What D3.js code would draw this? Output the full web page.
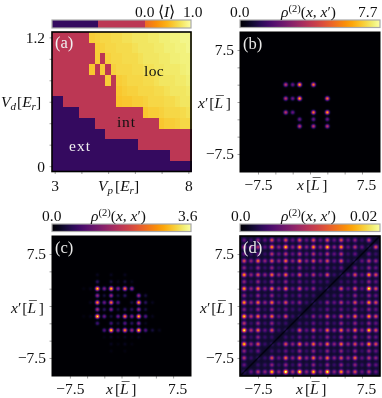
<!DOCTYPE html>
<html>
<head>
<meta charset="utf-8">
<script src="https://cdn.jsdelivr.net/npm/d3@7"></script>
<style>
html, body { margin: 0; padding: 0; background: #fff; }
#wrap { position: relative; width: 382px; height: 398px; overflow: hidden; }
canvas, svg { position: absolute; left: 0; top: 0; }
text { font-family: "Liberation Serif", serif; fill: #111; }
</style>
</head>
<body>
<div id="wrap"></div>
<script>
// Panel (a): phase map, 13 rows of Vd (top = 1.2) by 26 columns of Vp, in percent of the colour range
const vpValues = d3.range(26).map(i => +(3 + i * 0.2).toFixed(1))
const vdValues = d3.range(13).map(i => +(1.2 - i * 0.1).toFixed(1))
const phaseRows = [
    [50,50,50,50,50,50,50,88,89,90,90,91,91,92,92,93,93,93,94,94,95,95,96,96,97,97],
    [50,50,50,50,50,50,50,50,88,89,90,90,91,91,91,92,93,93,93,94,94,95,95,96,96,97],
    [50,50,50,50,50,50,50,50,88,50,89,90,90,91,91,91,92,93,93,93,94,94,95,95,96,96],
    [50,50,50,50,50,50,50,87,50,88,50,89,90,90,90,91,91,92,92,93,93,94,94,94,95,96],
    [50,50,50,50,50,50,50,50,50,50,88,50,88,89,90,90,90,91,91,92,93,93,93,94,94,95],
    [50,50,50,50,50,50,50,50,50,50,50,50,87,88,89,89,90,90,90,91,91,92,93,93,93,94],
    [17,17,50,50,50,50,50,50,50,50,50,50,86,87,87,88,88,89,90,90,90,91,91,92,93,93],
    [17,17,17,17,17,50,50,50,50,50,50,50,50,50,50,50,50,87,88,88,89,90,90,90,91,92],
    [17,17,17,17,17,17,17,17,50,50,50,50,50,50,50,50,50,50,50,50,87,88,88,89,90,90],
    [17,17,17,17,17,17,17,17,17,17,50,50,50,50,50,50,50,50,50,50,50,50,50,50,50,50],
    [17,17,17,17,17,17,17,17,17,17,17,17,17,17,17,17,50,50,50,50,50,50,50,50,50,50],
    [17,17,17,17,17,17,17,17,17,17,17,17,17,17,17,17,17,17,17,17,17,17,50,50,50,50],
    [17,17,17,17,17,17,17,17,17,17,17,17,17,17,17,17,17,17,17,17,17,17,17,17,17,17]
]

// Panel (b): peak heights in tenths of the colour maximum, rows top to bottom
const xSitesB = [-3.5, -2.5, -1.5, 0.5, 2.5]
const ySitesB = [2.5, 0.5, -1.5, -2.5, -3.5]
const rhoB = [
    [5, 3, 8, 7, 0],
    [5, 3, 8, 0, 7],
    [5, 3, 0, 7, 8],
    [0, 0, 3, 3, 3],
    [0, 0, 5, 5, 5]
]

// Panel (c)
const xSitesC = [-5.5, -4.5, -3.5, -2.5, -1.5, -0.5, 0.5, 1.5, 2.5, 3.5, 4.5, 5.5]
const ySitesC = [4.5, 3.5, 2.5, 1.5, 0.5, -0.5, -1.5, -2.5, -3.5, -4.5, -5.5, -6.5]
const rhoC = [
    [0,0,0.5,0,0.5,0,0.5,0,0,0,0,0],
    [0,0,1.5,0,1,0.5,1,0.5,0,0,0,0],
    [0.3,0.5,9,3.5,8.5,3.5,7,4,0,0,0,0],
    [0,0,4,1,4,1,1.5,0,4,1,0,0],
    [0,0.5,7.5,3,7,2.5,0,1,8,1.5,0.5,0],
    [0,0,4.5,1.5,3.5,1,1.5,1.5,4,1,0,0],
    [0.3,0.5,9.5,3,1,3,7,3.5,8.5,2.5,0.5,0],
    [0,0,2,0,2,1,2.5,1.5,3.5,0.5,0,0],
    [0,0,0,2.5,9,3.5,7.5,4,9,2.5,1,0.5],
    [0,0,0,0.3,0.5,0.3,0.5,0.3,0.5,0,0,0],
    [0,0,0,0,0.5,0.3,0.5,0.3,0,0,0,0],
    [0,0,0,0,0.3,0,0.3,0,0,0,0,0]
]

// Panel (d): all 20 by 20 lattice sites
const xSitesD = d3.range(20).map(i => i - 9.5)
const ySitesD = d3.range(20).map(i => 9.5 - i)
const rhoD = [
    [2,1,3,2,5,2,5,2,5,2,5,2,5,2,5,2,3,1,4,0],
    [4,3,4,2,7,3,8,3,7,3,7,3,8,3,7,2,4,2,1,5],
    [2,1,2,1,4,2,4,2,4,2,4,2,4,2,4,1,2,0,2,1],
    [5,3,6,3,5,3,6,3,6,3,5,3,5,2,5,1,1,2,4,3],
    [3,1,3,1,3,1,3,1,3,1,2,1,2,1,2,0,2,1,3,2],
    [7,3,5,3,6,3,6,2,5,2,4,2,5,1,1,2,5,2,7,5],
    [3,1,3,1,3,1,3,1,2,1,2,1,1,0,1,1,2,1,3,2],
    [7,3,6,3,6,3,6,2,5,2,3,1,1,1,5,2,5,2,9,5],
    [3,1,3,1,3,1,2,1,2,1,1,0,1,1,2,1,3,1,3,2],
    [7,3,6,3,6,2,5,2,3,1,1,1,3,2,4,2,5,2,7,5],
    [3,1,3,1,3,1,2,1,1,0,1,1,2,1,2,1,3,1,3,2],
    [8,4,6,3,6,2,5,1,1,1,3,2,5,2,5,3,6,2,7,5],
    [4,1,3,1,3,1,1,0,1,1,2,1,2,1,3,1,3,1,3,2],
    [9,4,6,2,5,1,1,1,5,2,5,2,6,3,6,3,6,3,8,5],
    [3,1,3,1,1,0,1,1,2,1,2,1,3,1,3,1,3,1,3,2],
    [8,3,5,1,1,1,5,3,6,3,6,3,6,3,6,3,5,3,7,5],
    [3,1,2,0,1,1,2,1,3,1,3,1,3,1,3,1,3,1,3,2],
    [4,1,1,1,5,2,6,3,6,3,6,3,6,3,5,3,6,2,4,3],
    [2,0,1,1,3,1,3,1,3,1,3,1,3,1,3,1,3,1,3,2],
    [1,2,4,3,8,3,10,4,9,3,8,3,9,3,7,3,5,2,4,2]
]

// Tick values
const rhoTicks = [-7.5, -5, -2.5, 0, 2.5, 5, 7.5]
const vpTicks = [3, 4, 5, 6, 7, 8]
const vdTicks = [0, 0.2, 0.4, 0.6, 0.8, 1.0, 1.2]
const colorbarMaxLabels = ["1.0", "7.7", "3.6", "0.02"]

const fontSize = 15.5
const color = d3.scaleSequential(d3.interpolateInferno).domain([0, 1]).clamp(true)

const wrap = d3.select("#wrap")
const canvas = wrap.append("canvas").attr("width", 382).attr("height", 398)
const ctx = canvas.node().getContext("2d")
const svg = wrap.append("svg").attr("width", 382).attr("height", 398)
const defs = svg.append("defs")

// Writes runs of [text, "i" for italic, dy, size, dx] as tspans
function mathText(g, x, y, runs, size, fill) {
    const t = g.append("text")
        .attr("x", x)
        .attr("y", y)
        .attr("font-size", size || fontSize)
        .style("fill", fill || "#111")
    for (const r of runs) {
        t.append("tspan")
            .attr("font-style", r[1] === "i" ? "italic" : "normal")
            .attr("dy", r[2] || 0)
            .attr("font-size", r[3] || null)
            .attr("dx", r[4] || null)
            .text(r[0])
    }
    return t
}

function styleAxis(g, tickColor) {
    g.select(".domain").remove()
    g.selectAll(".tick line").attr("stroke", tickColor).attr("stroke-width", 0.8)
    g.selectAll(".tick text")
        .attr("font-size", fontSize)
        .style("fill", "#111")
}

function colorbar(id, left, right, top, bottom, discrete) {
    const grad = defs.append("linearGradient").attr("id", id)
    if (discrete) {
        // three phases: flat, flat, then the top third of the colour map
        const stops = [[0, 0.17], [1 / 3, 0.17], [1 / 3, 0.5], [2 / 3, 0.5], [2 / 3, 2 / 3],
            [0.75, 0.75], [0.83, 0.83], [0.92, 0.92], [1, 1]]
        for (const s of stops) grad.append("stop").attr("offset", s[0]).attr("stop-color", color(s[1]))
    } else {
        d3.range(0, 1.001, 0.05).forEach(t => {
            grad.append("stop").attr("offset", t).attr("stop-color", color(t))
        })
    }
    svg.append("rect")
        .attr("x", left).attr("y", top)
        .attr("width", right - left).attr("height", bottom - top)
        .attr("fill", `url(#${id})`)
        .attr("stroke", "#a8a8a8")
        .attr("stroke-width", 1.2)
}

function frame(left, right, top, bottom, strokeWidth) {
    svg.append("rect")
        .attr("x", left).attr("y", top)
        .attr("width", right - left).attr("height", bottom - top)
        .attr("fill", "none")
        .attr("stroke", "#000")
        .attr("stroke-width", strokeWidth)
}

// Paints a density panel on the canvas, one pixel at a time
function densityPanel(p) {
    const x = d3.scaleLinear().domain([-10.1, 10.1]).range([p.left, p.right])
    const y = d3.scaleLinear().domain([-10.1, 10.1]).range([p.bottom, p.top])
    const x0 = Math.round(p.left), y0 = Math.round(p.top)
    const w = Math.round(p.right) - x0, h = Math.round(p.bottom) - y0
    const img = ctx.createImageData(w, h)
    const sigma2 = 2 * p.sigma * p.sigma
    const peaks = []
    p.values.forEach((row, j) => row.forEach((v, i) => {
        if (v > 0) peaks.push([p.xSites[i], p.ySites[j], v / 10])
    }))
    for (let py = 0; py < h; py++) {
        const dy = y.invert(y0 + py + 0.5)
        for (let px = 0; px < w; px++) {
            const dx = x.invert(x0 + px + 0.5)
            let sum = p.floor || 0
            for (const k of peaks) {
                const r2 = (dx - k[0]) * (dx - k[0]) + (dy - k[1]) * (dy - k[1])
                if (r2 < 2.5) sum += k[2] * Math.exp(-r2 / sigma2)
            }
            // panel (d) dips along x = x'
            if (p.notch) sum *= 1 - 0.7 * Math.exp(-(dx - dy) * (dx - dy) / (2 * p.notch * p.notch))
            const c = d3.rgb(color(sum))
            const o = (py * w + px) * 4
            img.data[o] = c.r
            img.data[o + 1] = c.g
            img.data[o + 2] = c.b
            img.data[o + 3] = 255
        }
    }
    ctx.putImageData(img, x0, y0)

    const tickFmt = d => Math.abs(d) === 7.5 ? (d < 0 ? "\u22127.5" : "7.5") : ""
    const gx = svg.append("g")
        .attr("transform", `translate(0,${p.bottom})`)
        .call(d3.axisBottom(x).tickValues(rhoTicks).tickSize(2.5).tickFormat(tickFmt))
    styleAxis(gx, "#888")
    gx.selectAll(".tick text").attr("y", 18).attr("dy", 0)
        .attr("dx", d => d > 0 ? 4 : 0)
    const gy = svg.append("g")
        .attr("transform", `translate(${p.left},0)`)
        .call(d3.axisLeft(y).tickValues(rhoTicks).tickSize(2.5).tickFormat(tickFmt))
    styleAxis(gy, "#888")
    gy.selectAll(".tick text").attr("x", -6).attr("dy", "0.32em")

    colorbar(p.id, p.left, p.right, p.top - 12, p.top - 4.5, false)
    frame(p.left, p.right, p.top, p.bottom, p.frame)

    mathText(svg, p.zeroX, p.top - 15.5, [["0.0"]])
    mathText(svg, p.rhoX, p.top - 15.5, [
        ["\u03c1", "i"], ["(2)", "", -5, 10.5], ["(", "", 5], ["x", "i"], [", "], ["x", "i"], ["\u2032"], [")"]
    ])
    mathText(svg, p.maxX, p.top - 15.5, [[p.maxLabel]])
    mathText(svg, p.left + 3, p.top + 17, [[p.tag]], 16.5, "#e8e8e8")
    // the bar over L is a macron stepped back over the letter
    const lBar = [["L", "i"], ["\u00af", "", -2.5, null, -7], ["]", "", 2.5, null, 1.8]]
    mathText(svg, p.yLabelX, p.yLabelY, [["x", "i"], ["\u2032"], ["[", "", 0, null, 1], ...lBar])
    mathText(svg, p.xLabelX, p.bottom + 18, [["x", "i"], ["[", "", 0, null, 2], ...lBar])
}

// Panel (a)
function phasePanel() {
    const left = 52, right = 191, top = 32, bottom = 171.5
    const x = d3.scaleBand().domain(vpValues).range([left, right])
    const y = d3.scaleBand().domain(vdValues).range([top, bottom])
    const cells = phaseRows.flatMap((row, j) => row.map((v, i) => ({ vp: vpValues[i], vd: vdValues[j], v: v / 100 })))
    svg.append("g")
        .attr("shape-rendering", "crispEdges")
        .selectAll("rect")
        .data(cells)
        .join("rect")
        .attr("x", d => x(d.vp))
        .attr("y", d => y(d.vd))
        .attr("width", x.bandwidth() + 0.5)
        .attr("height", y.bandwidth() + 0.5)
        .attr("fill", d => color(d.v))

    const xTick = d3.scaleLinear().domain([3, 8]).range([x(3) + x.bandwidth() / 2, x(8) + x.bandwidth() / 2])
    const yTick = d3.scaleLinear().domain([0, 1.2]).range([y(0) + y.bandwidth() / 2, y(1.2) + y.bandwidth() / 2])
    const gx = svg.append("g")
        .attr("transform", `translate(0,${bottom})`)
        .call(d3.axisBottom(xTick).tickValues(vpTicks).tickSize(2.5).tickFormat(d => (d === 3 || d === 8) ? d : ""))
    styleAxis(gx, "#888")
    gx.selectAll(".tick text").attr("y", 19).attr("dy", 0)
    const gy = svg.append("g")
        .attr("transform", `translate(${left},0)`)
        .call(d3.axisLeft(yTick).tickValues(vdTicks).tickSize(2.5).tickFormat(d => d === 1.2 ? "1.2" : d === 0 ? "0" : ""))
    styleAxis(gy, "#888")
    gy.selectAll(".tick text").attr("x", -7).attr("dy", "0.32em")

    colorbar("cbarA", left, right, 20, 28, true)
    frame(left, right, top, bottom, 1.6)

    mathText(svg, 135, 16.5, [["0.0"]])
    mathText(svg, 158, 16.5, [["\u27e8"], ["I", "i"], ["\u27e9"]])
    mathText(svg, 183, 16.5, [[colorbarMaxLabels[0]]])
    mathText(svg, 55, 48, [["(a)"]], 16.5, "#f0f0f0")
    mathText(svg, 144, 76, [["loc"]], 15.5).attr("letter-spacing", 0.4)
    mathText(svg, 117, 127, [["int"]], 15.5).attr("letter-spacing", 0.8)
    mathText(svg, 69, 151, [["ext"]], 15.5).attr("letter-spacing", 1).style("fill", "#f0f0f0")
    mathText(svg, 1, 107, [["V", "i"], ["d", "i", 3, 11], ["[", "", -3, null, 1], ["E", "i"], ["r", "i", 3, 11], ["]", "", -3]])
    mathText(svg, 98, 191, [["V", "i"], ["p", "i", 3, 11], ["[", "", -3, null, 2], ["E", "i"], ["r", "i", 3, 11], ["]", "", -3]])
}

phasePanel()
densityPanel({
    id: "cbarB", tag: "(b)", xSites: xSitesB, ySites: ySitesB, values: rhoB, sigma: 0.2,
    left: 240, right: 380, top: 32, bottom: 172, frame: 1,
    zeroX: 230, rhoX: 281, maxX: 358, maxLabel: colorbarMaxLabels[1],
    yLabelX: 198, yLabelY: 108, xLabelX: 297
})
densityPanel({
    id: "cbarC", tag: "(c)", xSites: xSitesC, ySites: ySitesC, values: rhoC, sigma: 0.2,
    left: 52, right: 191, top: 236, bottom: 376, frame: 1,
    zeroX: 42, rhoX: 91, maxX: 178, maxLabel: colorbarMaxLabels[2],
    yLabelX: 11, yLabelY: 313, xLabelX: 106
})
densityPanel({
    id: "cbarD", tag: "(d)", xSites: xSitesD, ySites: ySitesD, values: rhoD, sigma: 0.21, floor: 0.08, notch: 0.13,
    left: 240, right: 380, top: 236, bottom: 376, frame: 1.6,
    zeroX: 231, rhoX: 281, maxX: 350, maxLabel: colorbarMaxLabels[3],
    yLabelX: 200, yLabelY: 313, xLabelX: 296
})
</script>
</body>
</html>
